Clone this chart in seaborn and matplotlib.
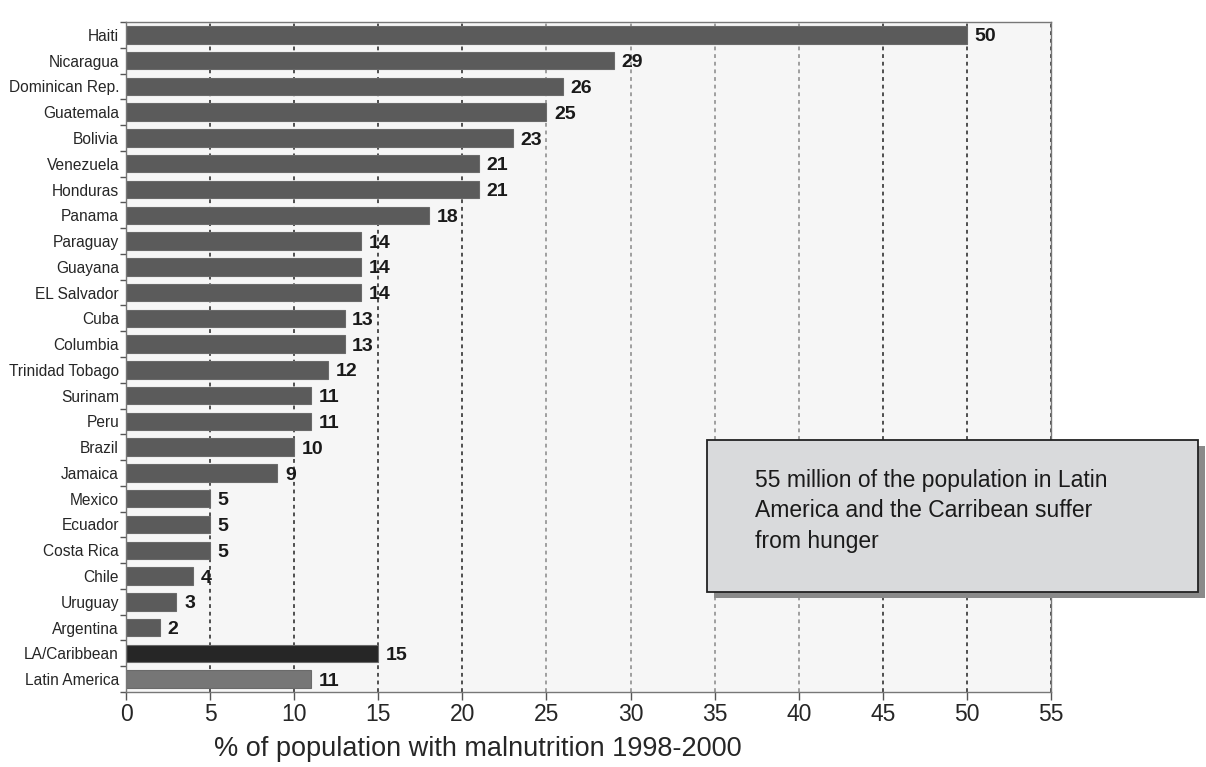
import pandas as pd
import numpy as np
import matplotlib
matplotlib.use('Agg')
import matplotlib.pyplot as plt
import seaborn as sns
from matplotlib.patches import Rectangle

sns.set_style('white')
plt.rcParams['font.family'] = ['Liberation Sans', 'DejaVu Sans']

# datos
paises = ['Haiti', 'Nicaragua', 'Dominican Rep.', 'Guatemala', 'Bolivia', 'Venezuela',
          'Honduras', 'Panama', 'Paraguay', 'Guayana', 'EL Salvador', 'Cuba', 'Columbia',
          'Trinidad Tobago', 'Surinam', 'Peru', 'Brazil', 'Jamaica', 'Mexico', 'Ecuador',
          'Costa Rica', 'Chile', 'Uruguay', 'Argentina', 'LA/Caribbean', 'Latin America']
valores = [50, 29, 26, 25, 23, 21, 21, 18, 14, 14, 14, 13, 13, 12, 11, 11, 10, 9, 5, 5, 5,
           4, 3, 2, 15, 11]
colores = ['#5b5b5b'] * 24 + ['#262626', '#767676']
ticks_x = list(range(0, 56, 5))

df = pd.DataFrame({'pais': paises, 'valor': valores})

fig = plt.figure(figsize=(12.06, 7.67), dpi=100)
ax = fig.add_axes([0.1045, 0.0978, 0.767, 0.8735])
ax.set_facecolor('#f6f6f6')

sns.barplot(data=df, y='pais', x='valor', hue='pais', palette=colores, legend=False,
            orient='h', width=0.68, edgecolor='#6a6a6a', linewidth=0.8, ax=ax, zorder=2)

# lineas de cuadricula discontinuas (detras de las barras)
for t in ticks_x[1:]:
    c = '#888888' if 25 <= t <= 40 else '#222222'
    ax.axvline(t, color=c, linestyle=(0, (2.5, 2.5)), linewidth=1.1, zorder=1)

for i, v in enumerate(valores):
    ax.text(v + 0.45, i + 0.08, str(v), va='center', ha='left', fontsize=14,
            fontweight='bold', color='#1a1a1a', zorder=3)

ax.set_xlim(0, 55)
ax.set_ylim(len(paises) - 0.5, -0.5)
ax.set_xticks(ticks_x)
# marcas del eje y entre las barras
ax.set_yticks(np.arange(len(paises) + 1) - 0.5, minor=True)
ax.tick_params(axis='y', which='minor', left=True, length=4, width=1, direction='out', color='#555555')
ax.tick_params(axis='x', bottom=True, labelsize=16.5, length=6, width=1, direction='out',
               color='#555555', pad=2)
ax.tick_params(axis='y', which='major', labelsize=11.2, length=0, pad=5)
ax.set_ylabel('')
ax.set_xlabel('% of population with malnutrition 1998-2000', fontsize=19.5)
ax.xaxis.set_label_coords(0.38, -0.065)
for s in ax.spines.values():
    s.set_color('#777777')
    s.set_linewidth(1.0)

# recuadro con texto y sombra
sombra = Rectangle((0.592, 0.22), 0.407, 0.198, transform=fig.transFigure,
                   facecolor='#8a8a8a', edgecolor='none', zorder=5)
caja = Rectangle((0.586, 0.228), 0.407, 0.198, transform=fig.transFigure,
                 facecolor='#d9dadc', edgecolor='#222222', linewidth=1.3, zorder=6)
fig.patches.extend([sombra, caja])
fig.text(0.626, 0.389, '55 million of the population in Latin\nAmerica and the Carribean suffer\nfrom hunger',
         fontsize=16.5, va='top', ha='left', color='#1a1a1a', linespacing=1.42, zorder=7)

plt.savefig('out.png', dpi=100)
